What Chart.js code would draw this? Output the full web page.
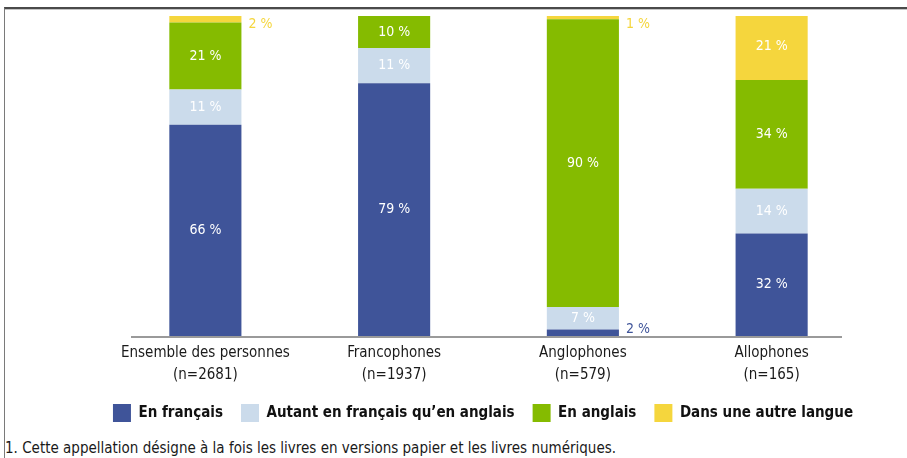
<!DOCTYPE html>
<html lang="fr">
<head>
<meta charset="utf-8">
<script src="https://cdn.jsdelivr.net/npm/chart.js@4.4.0/dist/chart.umd.min.js"></script>
<style>
  html, body { margin: 0; padding: 0; background: #fff; }
  body { width: 907px; height: 458px; position: relative; overflow: hidden; }
  .frame {
    position: absolute; left: 4px; top: 7px; width: 903px; height: 451px;
    border-top: 2px solid #4a4a4a; border-left: 1px solid #7a7a7a;
    box-shadow: inset 0 1px 0 #c4c4c4;
  }
  .plot { position: absolute; left: 0; top: 0; width: 907px; height: 432px; }
  .note {
    position: absolute; left: 5px; top: 439px; line-height: 18px;
    font-family: 'Liberation Sans Narrow', 'DejaVu Sans Condensed', sans-serif;
    font-size: 15px; color: #1a1a1a; white-space: nowrap;
  }
</style>
</head>
<body>
<div class="frame"></div>
<div class="plot"><canvas id="livresChart"></canvas></div>
<div class="note">1. Cette appellation désigne à la fois les livres en versions papier et les livres numériques.</div>
<script>
/* Langue de lecture des livres, par groupe linguistique */

const categories = [
    ['Ensemble des personnes', '(n=2681)'],
    ['Francophones', '(n=1937)'],
    ['Anglophones', '(n=579)'],
    ['Allophones', '(n=165)']
];
const seriesNames = ['En français', 'Autant en français qu\u2019en anglais', 'En anglais', 'Dans une autre langue'];
const enFrancais = [66, 79, 2, 32];
const autantLesDeux = [11, 11, 7, 14];
const enAnglais = [21, 10, 90, 34];
const autreLangue = [2, 0, 1, 21];

const COLORS = ['#3f5499', '#cbdbeb', '#85bb00', '#f5d63d'];
const FONT = "'Liberation Sans Narrow', 'DejaVu Sans Condensed', sans-serif";

Chart.defaults.font.family = FONT;

// Percent labels: inside the segment when it is tall enough, beside it otherwise
const segmentLabels = {
    id: 'segmentLabels',
    afterDatasetsDraw: function (chart) {
        const ctx = chart.ctx;
        ctx.save();
        ctx.font = '14px ' + FONT;
        chart.data.datasets.forEach(function (ds, di) {
            const meta = chart.getDatasetMeta(di);
            meta.data.forEach(function (bar, i) {
                const v = ds.data[i];
                if (!v) return;
                const txt = v + ' %';
                if (v >= 5) {
                    ctx.fillStyle = '#ffffff';
                    ctx.textAlign = 'center';
                    ctx.textBaseline = 'middle';
                    ctx.fillText(txt, bar.x, (bar.y + bar.base) / 2);
                } else {
                    ctx.fillStyle = ds.backgroundColor;
                    ctx.textAlign = 'left';
                    ctx.textBaseline = 'alphabetic';
                    const x = bar.x + bar.width / 2 + 7;
                    const y = di === 0 ? bar.base - 3 : bar.y + 12;
                    ctx.fillText(txt, x, y);
                }
            });
        });
        ctx.restore();
    }
};

// Grey base line under the bars
const baseLine = {
    id: 'baseLine',
    afterDatasetsDraw: function (chart) {
        const { ctx, chartArea } = chart;
        ctx.save();
        ctx.strokeStyle = '#9a9a9a';
        ctx.lineWidth = 2;
        ctx.beginPath();
        ctx.moveTo(chartArea.left + 20, chartArea.bottom + 1);
        ctx.lineTo(chartArea.right - 24, chartArea.bottom + 1);
        ctx.stroke();
        ctx.restore();
    }
};

const seriesData = [enFrancais, autantLesDeux, enAnglais, autreLangue];

new Chart(document.getElementById('livresChart'), {
    type: 'bar',
    data: {
        labels: categories,
        datasets: seriesData.map(function (d, k) {
            return {
                label: seriesNames[k],
                data: d,
                backgroundColor: COLORS[k],
                borderWidth: 0,
                categoryPercentage: 1,
                barPercentage: 0.382
            };
        })
    },
    options: {
        responsive: true,
        maintainAspectRatio: false,
        animation: false,
        layout: { padding: { left: 92, right: 33, top: 16, bottom: 0 } },
        plugins: {
            legend: {
                position: 'bottom',
                labels: {
                    color: '#111',
                    font: { size: 15, weight: 'bold' },
                    boxWidth: 18,
                    boxHeight: 18,
                    padding: 18
                }
            },
            tooltip: { enabled: false }
        },
        scales: {
            x: {
                stacked: true,
                grid: { display: false, drawTicks: false },
                border: { display: false },
                ticks: {
                    color: '#1a1a1a',
                    font: { size: 15, lineHeight: 1.47 },
                    padding: 6,
                    maxRotation: 0,
                    autoSkip: false
                },
                afterFit: function (scale) { scale.height = scale.height - 6; }
            },
            y: {
                stacked: true,
                min: 0,
                max: 100,
                grid: { display: false, drawTicks: false },
                border: { display: false },
                ticks: { display: false },
                afterFit: function (scale) { scale.width = 19; }
            },
            yRight: {
                position: 'right',
                display: true,
                min: 0,
                max: 100,
                grid: { display: false, drawTicks: false },
                border: { display: false },
                ticks: { display: false },
                afterFit: function (scale) { scale.width = 8; }
            }
        }
    },
    plugins: [segmentLabels, baseLine]
});
</script>
</body>
</html>
